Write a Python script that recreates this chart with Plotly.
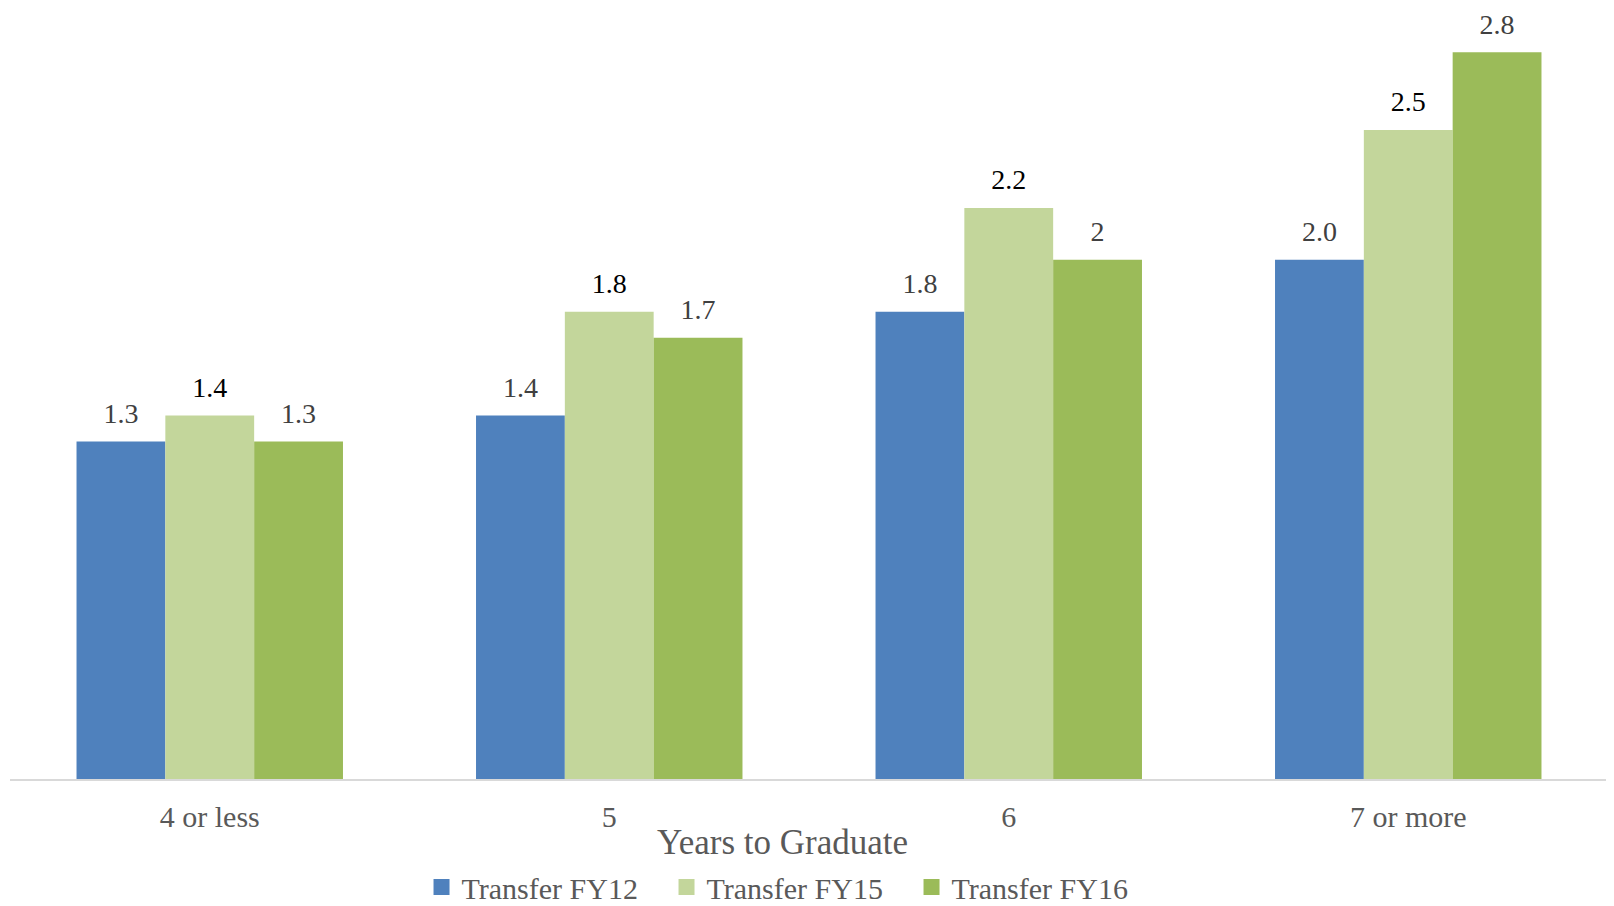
import plotly.graph_objects as go

categories = ["4 or less", "5", "6", "7 or more"]
fy12 = [1.3, 1.4, 1.8, 2.0]
fy15 = [1.4, 1.8, 2.2, 2.5]
fy16 = [1.3, 1.7, 2.0, 2.8]
fy12_labels = ["1.3", "1.4", "1.8", "2.0"]
fy15_labels = ["1.4", "1.8", "2.2", "2.5"]
fy16_labels = ["1.3", "1.7", "2", "2.8"]
series_names = ["Transfer FY12", "Transfer FY15", "Transfer FY16"]

FONT = "Liberation Serif, Times New Roman, serif"
colors = ["#4F81BD", "#C3D69B", "#9BBB59"]
label_colors = ["#404040", "#000000", "#404040"]

fig = go.Figure()
for name, vals, col in zip(series_names, [fy12, fy15, fy16], colors):
    fig.add_trace(go.Bar(
        x=categories, y=vals, name=name, marker_color=col,
        marker_line_width=0, showlegend=False, hoverinfo="skip",
    ))

# data labels, grouped like the bars
for name, vals, labels, lcol in zip(series_names, [fy12, fy15, fy16],
                                    [fy12_labels, fy15_labels, fy16_labels],
                                    label_colors):
    fig.add_trace(go.Scatter(
        x=categories, y=vals, mode="markers+text", text=labels,
        textposition="top center",
        textfont=dict(family=FONT, size=28, color=lcol),
        marker=dict(size=17, color="rgba(0,0,0,0)"),
        showlegend=False, cliponaxis=False, hoverinfo="skip",
    ))

# legend entries (on a hidden overlay axis so they don't affect grouping)
for name, col in zip(series_names, colors):
    fig.add_trace(go.Scatter(
        x=[None], y=[None], mode="markers", name=name,
        marker=dict(symbol="square", size=16, color=col),
        xaxis="x2", yaxis="y2",
    ))

fig.update_layout(
    width=1606, height=898,
    margin=dict(l=2, r=6, t=0, b=127, autoexpand=False),
    paper_bgcolor="white", plot_bgcolor="white",
    barmode="group", bargap=0.333, bargroupgap=0,
    scattermode="group", scattergap=0.333,
    font=dict(family=FONT, size=30, color="#595959"),
    showlegend=True,
    legend=dict(orientation="h", x=0.4875, xanchor="center", y=-0.140, yanchor="middle",
                font=dict(family=FONT, size=30, color="#595959"),
                itemwidth=30, entrywidth=200, entrywidthmode="pixels"),
    xaxis=dict(showline=True, linecolor="#D9D9D9", linewidth=2,
               ticks="outside", tickcolor="rgba(0,0,0,0)", ticklen=10,
               tickfont=dict(family=FONT, size=30, color="#595959"),
               showgrid=False, automargin=False),
    yaxis=dict(range=[0, 2.97], visible=False, showgrid=False, automargin=False),
    xaxis2=dict(overlaying="x", visible=False),
    yaxis2=dict(overlaying="y", visible=False),
    annotations=[dict(text="Years to Graduate", xref="paper", yref="paper",
                      x=0.5, y=0, xshift=-27, yshift=-63,
                      xanchor="center", yanchor="middle",
                      showarrow=False,
                      font=dict(family=FONT, size=35, color="#595959"))],
)

fig.write_html("out.html")
